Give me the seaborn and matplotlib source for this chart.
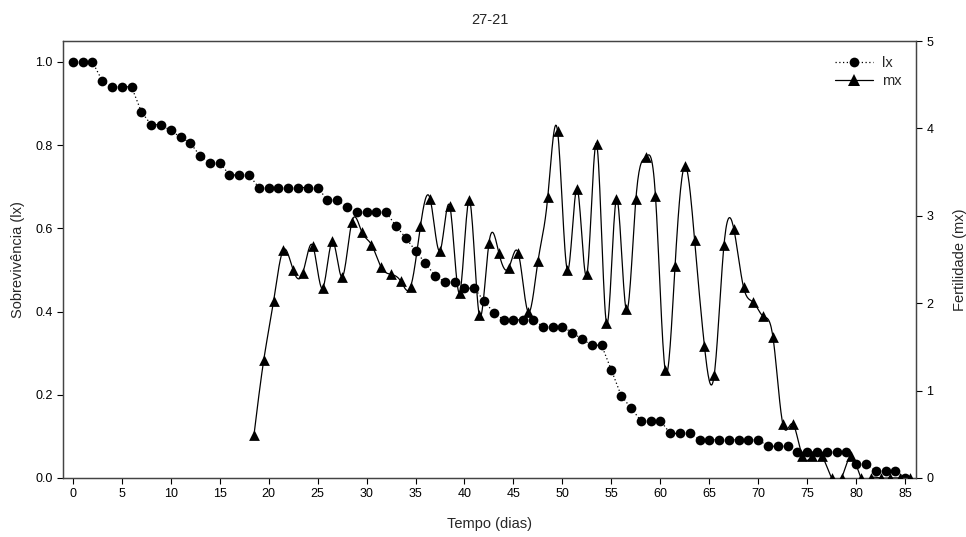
import numpy as np
import matplotlib
matplotlib.use("Agg")
import matplotlib.pyplot as plt
from matplotlib.lines import Line2D
import seaborn as sns

# ---- data ----
lx_days = list(range(0, 86))
lx = [1.0, 1.0, 1.0, 0.955, 0.940, 0.940, 0.940, 0.880, 0.849, 0.849,
      0.835, 0.819, 0.805, 0.774, 0.758, 0.758, 0.728, 0.728, 0.728, 0.698,
      0.698, 0.698, 0.698, 0.698, 0.698, 0.698, 0.668, 0.668, 0.652, 0.638,
      0.638, 0.638, 0.638, 0.606, 0.577, 0.546, 0.516, 0.486, 0.471, 0.471,
      0.456, 0.456, 0.425, 0.397, 0.380, 0.380, 0.380, 0.380, 0.364, 0.364,
      0.364, 0.349, 0.334, 0.319, 0.319, 0.259, 0.198, 0.168, 0.138, 0.138,
      0.138, 0.107, 0.107, 0.107, 0.092, 0.092, 0.092, 0.092, 0.092, 0.092,
      0.092, 0.076, 0.076, 0.076, 0.062, 0.062, 0.062, 0.062, 0.062, 0.062,
      0.034, 0.034, 0.017, 0.017, 0.017, 0.0]

mx_days = [d + 0.5 for d in range(18, 86)]
mx = [0.49, 1.35, 2.02, 2.61, 2.38, 2.35, 2.66, 2.17, 2.71, 2.30,
      2.93, 2.82, 2.67, 2.41, 2.33, 2.25, 2.19, 2.88, 3.19, 2.60,
      3.11, 2.12, 3.18, 1.87, 2.69, 2.58, 2.40, 2.57, 1.90, 2.48,
      3.21, 3.97, 2.38, 3.31, 2.33, 3.82, 1.77, 3.19, 1.93, 3.19,
      3.67, 3.23, 1.23, 2.43, 3.57, 2.72, 1.51, 1.18, 2.67, 2.85,
      2.18, 2.01, 1.85, 1.61, 0.62, 0.62, 0.25, 0.25, 0.25, 0.0,
      0.0, 0.25, 0.0, 0.0, 0.0, 0.0, 0.0, 0.0]

x_ticks = list(range(0, 90, 5))
left_ticks = [0.0, 0.2, 0.4, 0.6, 0.8, 1.0]
right_ticks = [0, 1, 2, 3, 4, 5]


def natural_spline(x, y, per_seg=16):
    x = np.asarray(x, float)
    y = np.asarray(y, float)
    n = len(x)
    h = np.diff(x)
    A = np.zeros((n, n))
    r = np.zeros(n)
    A[0, 0] = 1.0
    A[-1, -1] = 1.0
    for i in range(1, n - 1):
        A[i, i - 1] = h[i - 1]
        A[i, i] = 2 * (h[i - 1] + h[i])
        A[i, i + 1] = h[i]
        r[i] = 6 * ((y[i + 1] - y[i]) / h[i] - (y[i] - y[i - 1]) / h[i - 1])
    M = np.linalg.solve(A, r)
    xs, ys = [], []
    for i in range(n - 1):
        t = np.linspace(x[i], x[i + 1], per_seg, endpoint=False)
        a = x[i + 1] - t
        b = t - x[i]
        s = (M[i] * a ** 3 + M[i + 1] * b ** 3) / (6 * h[i]) \
            + (y[i] / h[i] - M[i] * h[i] / 6) * a \
            + (y[i + 1] / h[i] - M[i + 1] * h[i] / 6) * b
        xs.extend(t)
        ys.extend(s)
    xs.append(x[-1])
    ys.append(y[-1])
    return np.array(xs), np.array(ys)


sns.set_style("ticks")
plt.rcParams['font.family'] = ['Liberation Sans', 'DejaVu Sans']

fig = plt.figure(figsize=(9.66, 5.37), dpi=100)
ax = fig.add_axes([0.0652, 0.1099, 0.8830, 0.8137])
ax2 = ax.twinx()

# lx: dotted line with filled circles
sns.lineplot(x=lx_days, y=lx, ax=ax, color="black", linestyle=(0, (1, 2)),
             linewidth=0.9, marker="o", markersize=7, markeredgewidth=0,
             estimator=None, sort=False)

# mx: smooth spline curve + triangles
sx, sy = natural_spline(mx_days, mx)
sns.lineplot(x=sx, y=sy, ax=ax2, color="black", linewidth=0.9,
             estimator=None, sort=False)
sns.scatterplot(x=mx_days, y=mx, ax=ax2, color="black", marker="^", s=60,
                linewidth=0, zorder=5)

ax.set_xlim(-1, 86.1)
ax.set_ylim(0, 1.05)
ax2.set_ylim(0, 5)

ax.set_xticks(x_ticks)
ax.set_yticks(left_ticks)
ax.set_yticklabels([f"{v:.1f}" for v in left_ticks])
ax2.set_yticks(right_ticks)
ax2.set_yticklabels([str(v) for v in right_ticks])

for a in (ax, ax2):
    a.tick_params(direction="out", length=4, width=0.8, labelsize=9,
                  colors="black")
    for sp in a.spines.values():
        sp.set_visible(True)
        sp.set_color("#444444")
        sp.set_linewidth(0.9)
    a.grid(False)

ax.set_xlabel("Tempo (dias)", fontsize=10.5, labelpad=12)
ax.set_ylabel("Sobrevivência (lx)", fontsize=10.5, labelpad=7)
ax2.set_ylabel("Fertilidade (mx)", fontsize=10.5, labelpad=14)
ax.set_title("27-21", fontsize=10.5, pad=12)

handles = [
    Line2D([], [], color="black", linestyle=(0, (1, 2)), linewidth=0.9,
           marker="o", markersize=7, markeredgewidth=0),
    Line2D([], [], color="black", linewidth=0.9,
           marker="^", markersize=8, markeredgewidth=0),
]
leg = ax2.legend(handles, ["lx", "mx"], loc="upper right", frameon=False,
                 fontsize=10.5, handlelength=2.6, handletextpad=0.6,
                 borderaxespad=0.6, labelspacing=0.3)

fig.savefig("out.png", dpi=100)
